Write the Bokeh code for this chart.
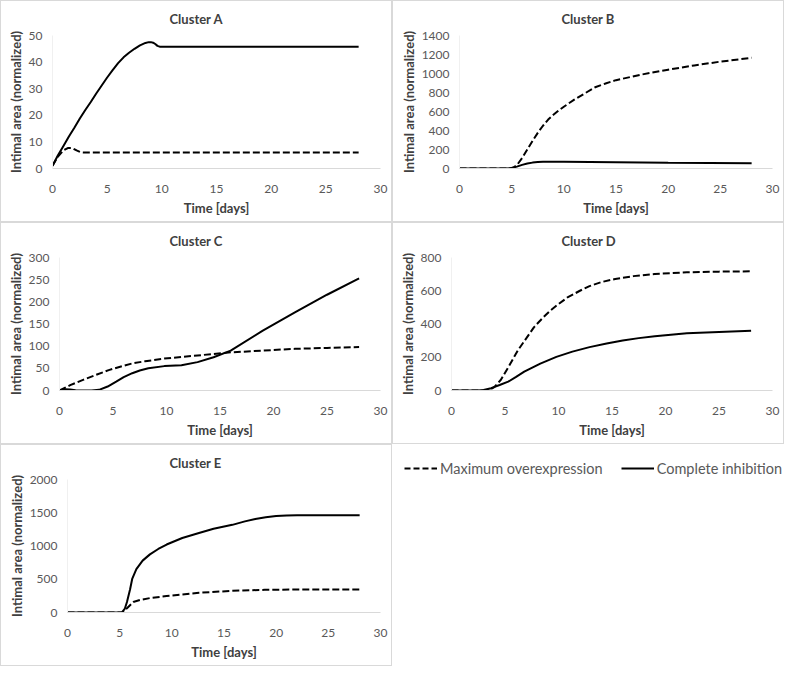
from bokeh.plotting import figure
from bokeh.layouts import column, row
from bokeh.models import Range1d, FixedTicker, Legend, LegendItem
from bokeh.embed import file_html
from bokeh.resources import INLINE

# ---------------- data ----------------
x_ticks = [0, 5, 10, 15, 20, 25, 30]

# Cluster A
tA_max = [0, 0.5, 1, 1.4, 1.8, 2.2, 2.6, 3, 28]
A_max = [1, 4.5, 6.8, 7.7, 7.7, 6.8, 6.1, 6.0, 6.0]
tA_inh = [0, 0.5, 1, 1.5, 2, 2.5, 3, 3.5, 4, 4.5, 5, 5.5, 6, 6.5, 7, 7.5, 8, 8.5,
          8.8, 9, 9.2, 9.4, 9.6, 9.8, 10, 28]
A_inh = [1, 5, 8.5, 12, 15.3, 18.8, 22, 25, 28.2, 31.2, 34.2, 37, 39.6, 41.8, 43.5, 45, 46.3, 47.2,
         47.5, 47.5, 47.3, 46.8, 46.1, 45.8, 45.8, 45.8]

# Cluster B
tB_max = [0, 4.8, 5.2, 5.5, 6, 6.5, 7, 7.5, 8, 8.5, 9, 9.5, 10, 11, 12, 13, 14, 15, 17.5, 20, 22.5, 25, 28]
B_max = [0, 0, 12, 35, 110, 200, 290, 375, 450, 515, 565, 610, 650, 725, 790, 855, 895, 930, 990, 1040,
         1085, 1125, 1165]
tB_inh = [0, 4.5, 5, 5.5, 6, 6.5, 7, 7.5, 8, 10, 15, 20, 28]
B_inh = [0, 0, 5, 20, 38, 52, 62, 68, 71, 72, 66, 60, 55]

# Cluster C
tC_max = [0, 1, 2.2, 3.5, 4.6, 6, 6.8, 8, 9.8, 12.9, 16, 19, 22, 25, 28]
C_max = [0, 12, 24, 36, 46, 56, 61, 66, 72, 79, 86, 90, 94, 96, 98]
tC_inh = [0, 0.5, 1, 1.5, 2, 3, 3.7, 4.5, 5.3, 6, 6.8, 7.5, 8.3, 9.8, 11.4, 12.9, 14.4, 16, 19, 22, 25, 28]
C_inh = [0, 3, 2, 0.5, 0, 0, 1.5, 9, 20, 30, 39, 45, 50, 55, 57, 64, 75, 90, 135, 176, 216, 253]

# Cluster D
tD_max = [0, 3, 3.5, 4, 4.6, 5.4, 6.2, 7, 7.7, 8.5, 9.2, 10, 10.8, 12, 12.9, 14, 15.3, 17, 19, 22, 25, 28]
D_max = [0, 0, 2, 20, 63, 150, 241, 315, 380, 435, 479, 520, 558, 600, 628, 652, 671, 688, 701, 711, 715, 717]
tD_inh = [0, 2.5, 3, 3.7, 4.5, 5.3, 6, 6.8, 8.3, 9.8, 11.3, 12.9, 14.5, 16, 17.5, 19, 20.5, 22, 25, 28]
D_inh = [0, 0, 3, 14, 33, 53, 80, 113, 162, 202, 234, 261, 283, 301, 315, 327, 336, 344, 352, 360]

# Cluster E
tE_max = [0, 5.3, 5.8, 6.3, 7, 7.9, 9.5, 11, 12.6, 15.8, 18.9, 22, 25, 28]
E_max = [0, 0, 80, 158, 190, 217, 247, 270, 296, 326, 341, 345, 346, 346]
tE_inh = [0, 5.2, 5.5, 5.7, 6.0, 6.2, 6.6, 7.2, 7.9, 8.7, 9.5, 11, 12.6, 14, 15.8, 17, 18, 19, 20, 21, 22, 28]
E_inh = [0, 0, 60, 158, 350, 504, 652, 780, 874, 955, 1022, 1121, 1195, 1260, 1318, 1370, 1405, 1432,
         1450, 1460, 1462, 1462]

titles = ["Cluster A", "Cluster B", "Cluster C", "Cluster D", "Cluster E"]
y_max = [50, 1400, 300, 800, 2000]
y_steps = [10, 200, 50, 200, 500]
series = [
    (tA_max, A_max, tA_inh, A_inh),
    (tB_max, B_max, tB_inh, B_inh),
    (tC_max, C_max, tC_inh, C_inh),
    (tD_max, D_max, tD_inh, D_inh),
    (tE_max, E_max, tE_inh, E_inh),
]
legend_labels = ["Maximum overexpression", "Complete inhibition"]

# ---------------- styling ----------------
FONT = "Lato"
W, H = 392, 222
TOP, BOTTOM = 34, 55
BORDER = {"border": "1px solid #d9d9d9", "box-sizing": "border-box"}
DASH = "7 3"
LEFTS = [51, 66, 58, 58, 66]
TITLE_W = 56


def make_panel(i):
    title, ymax, ystep = titles[i], y_max[i], y_steps[i]
    tm, vm, ti, vi = series[i]
    left = LEFTS[i]
    p = figure(width=W, height=H, output_backend="svg", toolbar_location=None,
               x_range=Range1d(0, 30), y_range=Range1d(0, ymax),
               min_border_left=left, min_border_right=13,
               min_border_top=TOP, min_border_bottom=BOTTOM,
               styles=BORDER)
    p.outline_line_color = None
    p.xgrid.visible = False
    p.ygrid.visible = False
    p.title.text = title
    p.title.align = "left"
    p.title.offset = W / 2 - TITLE_W / 2 - left
    p.title.vertical_align = "top"
    p.title.text_font = FONT
    p.title.text_font_size = "13px"
    p.title.text_font_style = "bold"
    p.title.text_color = "#404040"
    p.title.standoff = 14

    p.line(tm, vm, line_color="black", line_width=2, line_dash=DASH)
    p.line(ti, vi, line_color="black", line_width=2)

    p.xaxis.ticker = FixedTicker(ticks=x_ticks)
    p.yaxis.ticker = FixedTicker(ticks=list(range(0, ymax + 1, ystep)))
    for ax in (p.xaxis[0], p.yaxis[0]):
        ax.major_tick_line_color = None
        ax.minor_tick_line_color = None
        ax.major_label_text_font = FONT
        ax.major_label_text_font_size = "12px"
        ax.major_label_text_color = "#595959"
        ax.axis_label_text_font = FONT
        ax.axis_label_text_font_size = "13px"
        ax.axis_label_text_font_style = "bold"
        ax.axis_label_text_color = "#404040"
    p.xaxis.axis_line_color = "#d9d9d9"
    p.yaxis.axis_line_color = "#f0f0f0"
    p.xaxis.axis_label = "Time [days]"
    p.yaxis.axis_label = "Intimal area (normalized)"
    p.xaxis.major_label_standoff = 10
    p.xaxis.axis_label_standoff = 4
    p.yaxis.major_label_standoff = 4
    p.yaxis.axis_label_standoff = 2
    return p


panels = [make_panel(i) for i in range(5)]

# legend cell (proxy renderers lie outside the visible range)
pl = figure(width=W, height=H, output_backend="svg", toolbar_location=None,
            x_range=Range1d(0, 1), y_range=Range1d(-2, -1),
            x_axis_type=None, y_axis_type=None,
            min_border_left=12, min_border_right=0,
            min_border_top=14, min_border_bottom=0)
pl.title.text_font_size = "1px"
pl.title.standoff = 0
pl.outline_line_color = None
pl.xgrid.visible = False
pl.ygrid.visible = False
r1 = pl.line(tA_max, A_max, line_color="black", line_width=2, line_dash="6 3")
r2 = pl.line(tA_inh, A_inh, line_color="black", line_width=2)
leg = Legend(items=[LegendItem(label=legend_labels[0], renderers=[r1]),
                    LegendItem(label=legend_labels[1], renderers=[r2])],
             orientation="horizontal", location="top_left")
leg.border_line_color = None
leg.background_fill_alpha = 0
leg.label_text_font = FONT
leg.label_text_font_size = "14.5px"
leg.label_text_color = "#595959"
leg.glyph_width = 33
leg.label_standoff = 3
leg.spacing = 18
leg.padding = 0
leg.margin = 0
pl.add_layout(leg)

layout = column(row(panels[0], panels[1]), row(panels[2], panels[3]),
                row(panels[4], column(pl)))

open("out.html", "w").write(file_html(layout, INLINE))
